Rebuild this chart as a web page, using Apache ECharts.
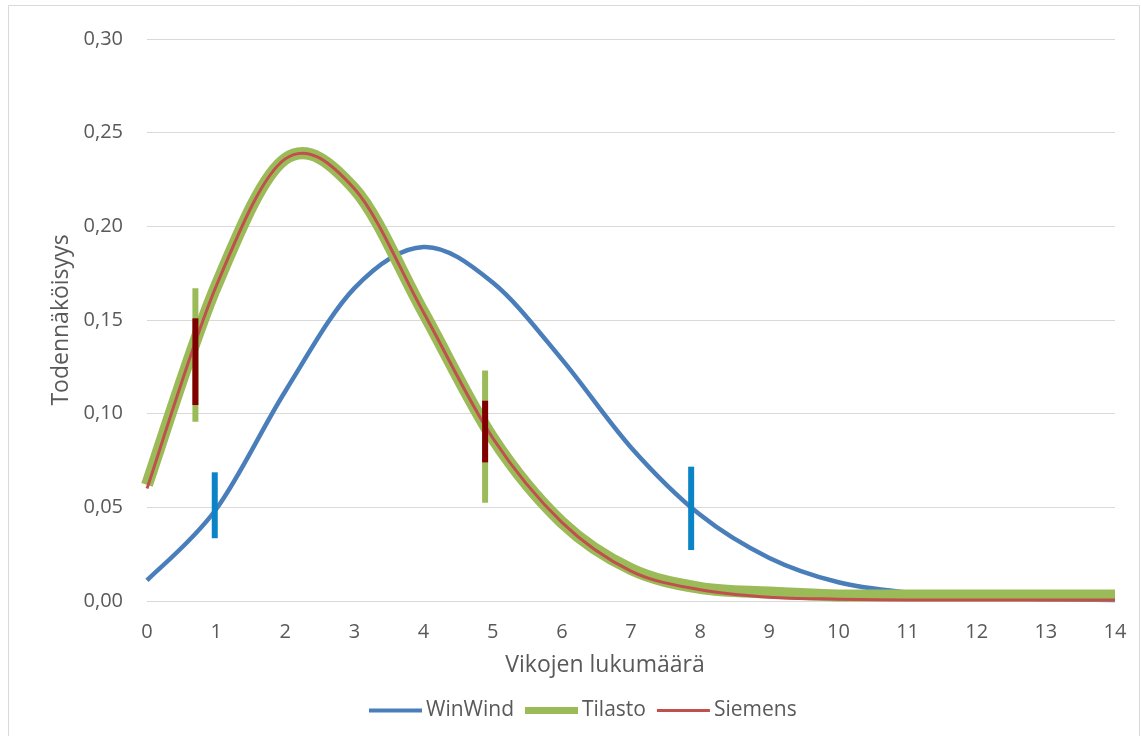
<!DOCTYPE html>
<html>
<head>
<meta charset="utf-8">
<title>Vikojen lukumäärä</title>
<script src="https://cdn.jsdelivr.net/npm/echarts@6/dist/echarts.min.js"></script>
<style>
  html, body { margin: 0; padding: 0; background: #ffffff; }
  #chart { width: 1141px; height: 736px; }
</style>
</head>
<body>
<div id="chart"></div>
<script>
// Number of faults (x axis)
const faultCounts = [0, 1, 2, 3, 4, 5, 6, 7, 8, 9, 10, 11, 12, 13, 14];

// Probability of each fault count, per source
const winWind = [0.011, 0.049, 0.112, 0.167, 0.189, 0.170, 0.129, 0.082, 0.046, 0.023, 0.010, 0.0045, 0.002, 0.001, 0.0005];
const tilasto = [0.062, 0.168, 0.236, 0.220, 0.154, 0.087, 0.042, 0.017, 0.007, 0.0045, 0.003, 0.003, 0.003, 0.003, 0.003];
const siemens = [0.060, 0.168, 0.236, 0.220, 0.154, 0.087, 0.042, 0.016, 0.006, 0.002, 0.001, 0.0006, 0.0006, 0.0006, 0.0006];

// Vertical range markers: [x, low, high]
const winWindRanges = [[0.98, 0.0335, 0.0687], [7.87, 0.0272, 0.0717]];
const tilastoRanges = [[0.70, 0.0957, 0.1669], [4.89, 0.0525, 0.1230]];
const siemensRanges = [[0.70, 0.1046, 0.1509], [4.89, 0.0740, 0.1069]];

const seriesNames = ['WinWind', 'Tilasto', 'Siemens'];
const xAxisTitle = 'Vikojen lukumäärä';
const yAxisTitle = 'Todennäköisyys';

const FONT = '"Open Sans", Lato, sans-serif';
const TEXT = '#595959';
const GRID = '#d9d9d9';

const pairs = (ys) => faultCounts.map((x, i) => [x, ys[i]]);

// Smoothed curve through the data points (one path of cubic Bezier
// segments with Catmull-Rom tangents), placed with the chart's coordinates.
function curveSeries(name, values, color, width, z) {
  return {
    type: 'custom',
    name: name,
    data: pairs(values),
    z: z,
    encode: { x: 0, y: 1 },
    itemStyle: { color: color },
    silent: true,
    renderItem: function (params, api) {
      if (params.dataIndex !== 0) return null;
      const pts = values.map((v, i) => api.coord([faultCounts[i], v]));
      const n = pts.length;
      const f = (v) => v.toFixed(2);
      let d = 'M' + f(pts[0][0]) + ',' + f(pts[0][1]);
      for (let i = 0; i < n - 1; i++) {
        const p0 = pts[Math.max(i - 1, 0)];
        const p1 = pts[i];
        const p2 = pts[i + 1];
        const p3 = pts[Math.min(i + 2, n - 1)];
        d += ' C' + f(p1[0] + (p2[0] - p0[0]) / 6) + ',' + f(p1[1] + (p2[1] - p0[1]) / 6) +
             ' ' + f(p2[0] - (p3[0] - p1[0]) / 6) + ',' + f(p2[1] - (p3[1] - p1[1]) / 6) +
             ' ' + f(p2[0]) + ',' + f(p2[1]);
      }
      return {
        type: 'path',
        shape: { pathData: d },
        style: { stroke: color, lineWidth: width, fill: null, lineCap: 'butt', lineJoin: 'round' }
      };
    }
  };
}

function rangeSeries(name, data, color, width, z) {
  return {
    type: 'custom',
    name: name,
    data: data,
    z: z,
    encode: { x: 0, y: [1, 2] },
    silent: true,
    renderItem: function (params, api) {
      const lo = api.coord([api.value(0), api.value(1)]);
      const hi = api.coord([api.value(0), api.value(2)]);
      return {
        type: 'rect',
        shape: { x: lo[0] - width / 2, y: hi[1], width: width, height: lo[1] - hi[1] },
        style: { fill: color }
      };
    }
  };
}

// Legend line glyphs of different thickness inside a 55x14 box
const legendBar = (h) => {
  const top = (14 - h) / 2;
  return 'path://M0,0L0.01,0Z M55,14L54.99,14Z M1,' + top + 'H54V' + (top + h) + 'H1Z';
};

const chart = echarts.init(document.getElementById('chart'), null, { renderer: 'canvas' });

chart.setOption({
  backgroundColor: '#ffffff',
  animation: false,
  textStyle: { fontFamily: FONT, color: TEXT },
  grid: { left: 147, right: 26, top: 39, bottom: 135, containLabel: false },
  graphic: [
    {
      type: 'rect',
      shape: { x: 8.5, y: 5.5, width: 1131, height: 740 },
      style: { fill: 'none', stroke: GRID, lineWidth: 1 },
      silent: true,
      z: -10
    }
  ],
  legend: {
    data: [
      { name: seriesNames[0], icon: legendBar(4) },
      { name: seriesNames[1], icon: legendBar(7) },
      { name: seriesNames[2], icon: legendBar(3) }
    ],
    left: 363,
    top: 695,
    itemWidth: 55,
    itemHeight: 14,
    itemGap: 10,
    textStyle: { fontFamily: FONT, fontSize: 21, color: TEXT, padding: [0, 0, 0, -2] }
  },
  xAxis: {
    type: 'value',
    min: 0,
    max: 14,
    interval: 1,
    name: xAxisTitle,
    nameLocation: 'middle',
    nameGap: 53,
    nameTextStyle: { fontFamily: FONT, fontSize: 23, color: TEXT, padding: [0, 52, 0, 0] },
    axisLine: { show: false },
    axisTick: { show: false },
    splitLine: { show: false },
    axisLabel: { fontFamily: FONT, fontSize: 20, color: TEXT, margin: 21 }
  },
  yAxis: {
    type: 'value',
    min: 0,
    max: 0.30,
    interval: 0.05,
    name: yAxisTitle,
    nameLocation: 'middle',
    nameGap: 74,
    nameTextStyle: { fontFamily: FONT, fontSize: 23, color: TEXT },
    axisLine: { show: false },
    axisTick: { show: false },
    splitLine: { lineStyle: { color: GRID, width: 1.2 } },
    axisLabel: {
      fontFamily: FONT, fontSize: 20, color: TEXT, margin: 24,
      formatter: (v) => v.toFixed(2).replace('.', ',')
    }
  },
  series: [
    curveSeries(seriesNames[0], winWind, '#4a7ebb', 4.5, 2),
    curveSeries(seriesNames[1], tilasto, '#9bbb59', 12, 3),
    curveSeries(seriesNames[2], siemens, '#c0504d', 3, 4),
    rangeSeries('WinWind-väli', winWindRanges, '#0a84c6', 6, 5),
    rangeSeries('Tilasto-väli', tilastoRanges, '#9bbb59', 6, 5),
    rangeSeries('Siemens-väli', siemensRanges, '#800000', 6, 6)
  ]
});
</script>
</body>
</html>
